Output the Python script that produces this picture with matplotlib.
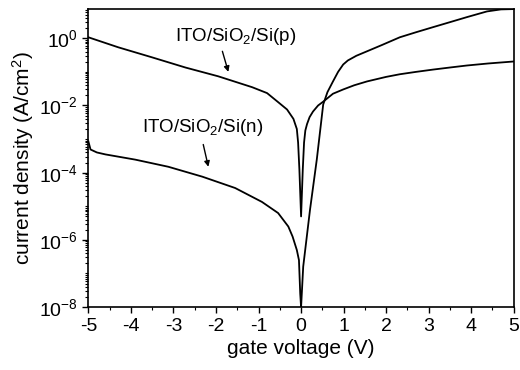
import matplotlib
matplotlib.use("Agg")
import matplotlib.pyplot as plt
import numpy as np
from matplotlib.ticker import (FixedLocator, LogFormatterSciNotation, MultipleLocator,
                               NullFormatter)

plt.rcParams['font.family'] = ['Liberation Sans', 'DejaVu Sans']
plt.rcParams['mathtext.fontset'] = 'custom'
plt.rcParams['mathtext.rm'] = 'Liberation Sans'
plt.rcParams['mathtext.it'] = 'Liberation Sans'
plt.rcParams['axes.unicode_minus'] = False

# ITO/SiO2/Si(p): gate voltage (V) vs current density (A/cm^2)
v_p = [-5.0, -4.3, -3.5, -2.72, -1.95, -1.15, -0.8, -0.54, -0.33, -0.18, -0.1,
       -0.07, -0.04, 0.0, 0.04, 0.07, 0.1, 0.14, 0.2, 0.28, 0.4, 0.52, 0.75,
       0.99, 1.25, 1.55, 2.0, 2.32, 2.7, 3.1, 3.5, 3.9, 4.4, 5.0]
j_p = [1.07, 0.54, 0.27, 0.135, 0.074, 0.035, 0.0234, 0.0126, 7.6e-3, 4.0e-3,
       2.0e-3, 7.9e-4, 1.26e-4, 5.0e-6, 1.26e-4, 7.9e-4, 1.8e-3, 2.8e-3, 4.5e-3,
       6.6e-3, 0.01, 0.013, 0.0224, 0.030, 0.040, 0.052, 0.071, 0.085, 0.1,
       0.117, 0.135, 0.155, 0.178, 0.204]

# ITO/SiO2/Si(n)
v_n = [-5.0, -4.95, -4.8, -4.6, -3.9, -3.12, -2.32, -1.55, -0.92, -0.54, -0.3,
       -0.2, -0.1, -0.05, -0.02, 0.0, 0.02, 0.05, 0.21, 0.37, 0.52, 0.62, 0.75,
       0.87, 0.99, 1.1, 1.3, 1.55, 1.9, 2.32, 2.7, 3.1, 3.5, 3.9, 4.37, 4.7, 5.0]
j_n = [8.5e-4, 4.9e-4, 4.0e-4, 3.5e-4, 2.45e-4, 1.5e-4, 7.6e-5, 3.5e-5, 1.35e-5,
       6.3e-6, 2.5e-6, 1.26e-6, 5.0e-7, 2.5e-7, 2.5e-8, 1.0e-8, 3.0e-8, 1.6e-7,
       7.9e-6, 2.5e-4, 0.0107, 0.025, 0.052, 0.1, 0.166, 0.219, 0.302, 0.41, 0.63,
       1.07, 1.51, 2.14, 3.02, 4.27, 6.3, 7.24, 7.4]

y_major = [1e-8, 1e-6, 1e-4, 1e-2, 1e0]
y_minor = [m * 10.0 ** e for e in range(-8, 1) for m in range(1, 10)
           if m * 10.0 ** e <= 7.5]

fig = plt.figure(figsize=(5.2, 3.7), dpi=100)
ax = fig.add_axes([0.170, 0.170, 0.818, 0.806])

ax.plot(v_p, j_p, color='black', lw=1.3)
ax.plot(v_n, j_n, color='black', lw=1.3)

ax.set_yscale('log')
ax.set_xlim(-5, 5)
ax.set_ylim(1e-8, 7.5)

ax.xaxis.set_major_locator(FixedLocator(np.arange(-5, 6)))
ax.xaxis.set_minor_locator(MultipleLocator(0.5))
ax.yaxis.set_major_locator(FixedLocator(y_major))
ax.yaxis.set_major_formatter(LogFormatterSciNotation())
ax.yaxis.set_minor_locator(FixedLocator(y_minor))
ax.yaxis.set_minor_formatter(NullFormatter())

ax.tick_params(which='major', direction='out', length=4, width=1, labelsize=14,
               top=False, right=False)
ax.tick_params(which='minor', direction='out', length=2.5, width=0.8,
               top=False, right=False)
for s in ax.spines.values():
    s.set_linewidth(1.2)

ax.set_xlabel('gate voltage (V)', fontsize=15, labelpad=3)
ax.set_ylabel('current density (A/cm$^2$)', fontsize=15, labelpad=2)

ax.text(-1.53, 1.15, 'ITO/SiO$_2$/Si(p)', fontsize=13.5, ha='center', va='center')
ax.annotate('', xy=(-1.71, 0.10), xytext=(-1.85, 0.41),
            arrowprops=dict(arrowstyle='-|>', color='black', lw=1,
                            mutation_scale=8, shrinkA=0, shrinkB=0))
ax.text(-2.32, 2.2e-3, 'ITO/SiO$_2$/Si(n)', fontsize=13.5, ha='center', va='center')
ax.annotate('', xy=(-2.18, 1.5e-4), xytext=(-2.3, 6.9e-4),
            arrowprops=dict(arrowstyle='-|>', color='black', lw=1,
                            mutation_scale=8, shrinkA=0, shrinkB=0))

fig.savefig('out.png', dpi=100)
